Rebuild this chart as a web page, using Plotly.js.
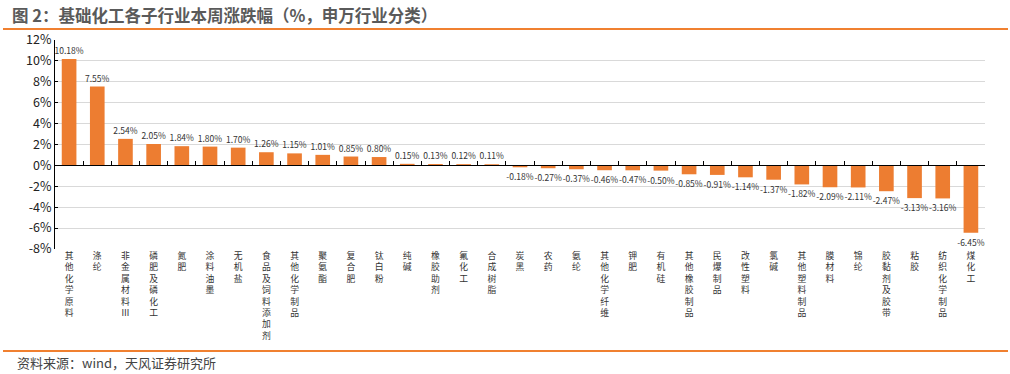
<!DOCTYPE html>
<html>
<head>
<meta charset="utf-8">
<script src="https://cdn.plot.ly/plotly-3.0.1.min.js"></script>
<style>html,body{margin:0;padding:0;background:#fff;}#chart{width:1010px;height:374px;}</style>
</head>
<body>
<div id="chart"></div>
<script>
const categories = ["其他化学原料","涤纶","非金属材料Ⅲ","磷肥及磷化工","氮肥","涂料油墨","无机盐","食品及饲料添加剂","其他化学制品","聚氨酯","复合肥","钛白粉","纯碱","橡胶助剂","氟化工","合成树脂","炭黑","农药","氨纶","其他化学纤维","钾肥","有机硅","其他橡胶制品","民爆制品","改性塑料","氯碱","其他塑料制品","膜材料","锦纶","胶黏剂及胶带","粘胶","纺织化学制品","煤化工"];
const changes = [10.18,7.55,2.54,2.05,1.84,1.80,1.70,1.26,1.15,1.01,0.85,0.80,0.15,0.13,0.12,0.11,-0.18,-0.27,-0.37,-0.46,-0.47,-0.50,-0.85,-0.91,-1.14,-1.37,-1.82,-2.09,-2.11,-2.47,-3.13,-3.16,-6.45];
const yTicks = [-8,-6,-4,-2,0,2,4,6,8,10,12];
const titleText = "图 2：基础化工各子行业本周涨跌幅（%，申万行业分类）";
const sourceText = "资料来源：wind，天风证券研究所";

const FONT = "Noto Sans CJK SC, Noto Sans, sans-serif";
const stacked = categories.map(c => Array.from(c).join("<br>"));
const yMin = yTicks[0], yMax = yTicks[yTicks.length - 1];

const traces = [
  {
    type: "bar",
    x: categories,
    y: changes,
    marker: {color: "#ED7D31"},
    text: changes.map(v => v.toFixed(2) + "%"),
    textposition: "outside",
    constraintext: "none",
    cliponaxis: false,
    textfont: {family: FONT, size: 8.5, color: "#333"},
    hoverinfo: "x+y",
    showlegend: false
  },
  {
    type: "scatter",
    mode: "markers",
    x: categories,
    y: changes,
    xaxis: "x2",
    yaxis: "y",
    marker: {opacity: 0},
    hoverinfo: "skip",
    showlegend: false
  }
];

const layout = {
  width: 1010,
  height: 374,
  margin: {l: 55, r: 25, t: 40, b: 125},
  paper_bgcolor: "#fff",
  plot_bgcolor: "#fff",
  bargap: 0.48,
  font: {family: FONT, color: "#333"},
  xaxis: {
    type: "category",
    range: [-0.5, categories.length - 0.5],
    tickmode: "array",
    tickvals: categories,
    ticktext: stacked,
    tickangle: 0,
    showline: false,
    showgrid: false,
    zeroline: false,
    ticks: "",
    ticklen: 2,
    tickfont: {family: FONT, size: 8.8, color: "#333"},
    fixedrange: true
  },
  xaxis2: {
    type: "category",
    overlaying: "x",
    anchor: "free",
    position: (0 - yMin) / (yMax - yMin),
    range: [-0.5, categories.length - 0.5],
    showticklabels: false,
    showline: true,
    linecolor: "#000",
    linewidth: 1,
    ticks: "inside",
    tickson: "boundaries",
    ticklen: 4,
    tickcolor: "#000",
    showgrid: false,
    zeroline: false
  },
  yaxis: {
    range: [yMin, yMax],
    tickmode: "array",
    tickvals: yTicks,
    ticktext: yTicks.map(v => v + "%"),
    showline: true,
    linecolor: "#000",
    linewidth: 1,
    ticks: "inside",
    ticklen: 3,
    tickcolor: "#000",
    gridcolor: "#d9d9d9",
    gridwidth: 1,
    zeroline: false,
    tickfont: {family: FONT, size: 12.5, color: "#222"},
    fixedrange: true
  },
  annotations: [
    {
      text: "<b>" + titleText + "</b>",
      xref: "paper", yref: "paper",
      x: -45 / 930, y: 1 + 25 / 209,
      xanchor: "left", yanchor: "middle",
      showarrow: false,
      font: {family: FONT, size: 16.5, color: "#5a5a5a"}
    },
    {
      text: sourceText,
      xref: "paper", yref: "paper",
      x: -40 / 930, y: -113 / 209,
      xanchor: "left", yanchor: "middle",
      showarrow: false,
      font: {family: FONT, size: 13, color: "#444"}
    }
  ],
  shapes: [
    {
      type: "line", xref: "paper", yref: "paper",
      x0: -52 / 930, x1: 953 / 930,
      y0: 1 + 11 / 209, y1: 1 + 11 / 209,
      line: {color: "#F08030", width: 2}
    },
    {
      type: "line", xref: "paper", yref: "paper",
      x0: -52 / 930, x1: 953 / 930,
      y0: -102 / 209, y1: -102 / 209,
      line: {color: "#F08030", width: 2}
    }
  ]
};

Plotly.newPlot("chart", traces, layout, {displayModeBar: false, staticPlot: true});
</script>
</body>
</html>
